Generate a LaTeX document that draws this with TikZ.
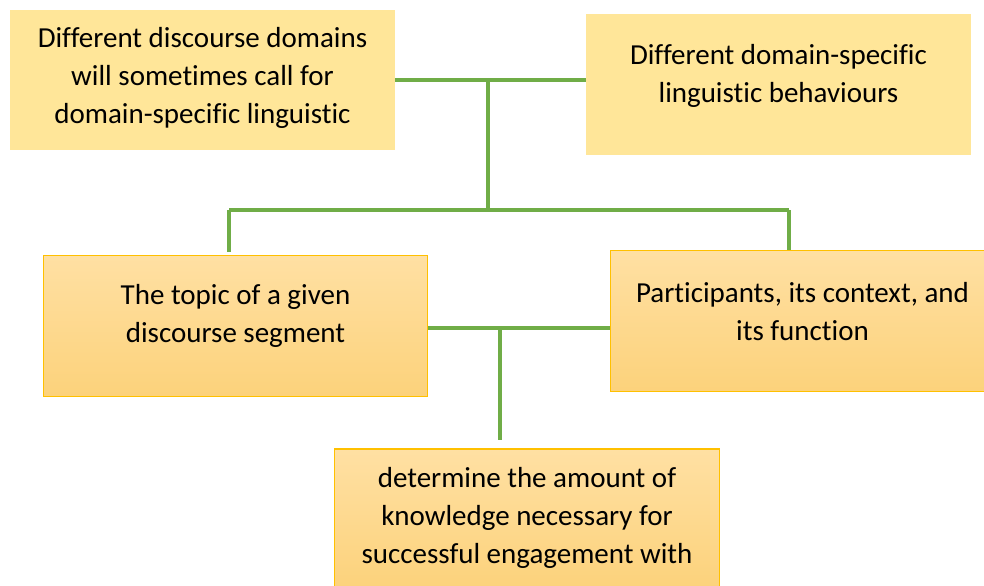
\documentclass[tikz,border=0pt]{standalone}
\usepackage{fontspec}
\setmainfont{Carlito}[Ligatures=NoCommon]
\usepackage{tikz}
\usetikzlibrary{positioning}
\definecolor{PaleGold}{HTML}{FFE699}
\definecolor{PeachTop}{HTML}{FFE0A3}
\definecolor{PeachBottom}{HTML}{FCD27B}
\definecolor{AmberEdge}{HTML}{FFC000}
\definecolor{LeafGreen}{HTML}{70AD47}

\begin{document}
\begin{tikzpicture}[x=0.02cm, y=-0.02cm,
    every node/.style={font=\fontsize{16.5}{21.6}\selectfont},
    plainbox/.style={fill=PaleGold, minimum width=7.7cm, minimum height=2.82cm, inner sep=0pt},
    shadebox/.style={top color=PeachTop, bottom color=PeachBottom, draw=AmberEdge, line width=0.6pt, minimum width=7.7cm, minimum height=2.82cm, inner sep=0pt},
    txt/.style={align=center, inner sep=0pt},
    link/.style={draw=LeafGreen, line width=2pt}]
      \useasboundingbox (0,0) rectangle (984,585);
      \clip (0,0) rectangle (984,585);
      % boxes
      \node[plainbox] (domains) at (202.5,80) {};
      \node[txt] (domains-text) at (202.5,77.5) {Different discourse domains\\will sometimes call for\\domain-specific linguistic};
      \node[plainbox] (behaviours) at (778.5,84.5) {};
      \node[txt] (behaviours-text) at (778.5,75.5) {Different domain-specific\\linguistic behaviours};
      \node[shadebox] (topic) at (235.5,326) {};
      \node[txt] (topic-text) at (235.5,316) {The topic of a given\\discourse segment};
      \node[shadebox] (participants) at (802.5,321) {};
      \node[txt] (participants-text) at (802.5,311.5) {Participants, its context, and\\its function};
      \node[shadebox] (amount) at (527,519.5) {};
      \node[txt] (amount-text) at (527,517.5) {determine the amount of\\knowledge necessary for\\successful engagement with};
      % connectors
      \coordinate (split) at (488,80);
      \coordinate (bar) at (488,210);
      \coordinate (left drop) at (229,210);
      \coordinate (right drop) at (789,210);
      \coordinate (meet) at (500,328);
      \draw[link] (domains.east |- split) -- (behaviours.west |- split);
      \draw[link] (split) -- (bar);
      \draw[link] (left drop) -- (right drop);
      \draw[link, shorten >=1.5pt] (left drop) -- (left drop |- topic.north);
      \draw[link] (right drop) -- (right drop |- participants.north);
      \draw[link] (topic.east |- meet) -- (participants.west |- meet);
      \draw[link, shorten >=5pt] (meet) -- (meet |- amount.north);
    \end{tikzpicture}
\end{document}
